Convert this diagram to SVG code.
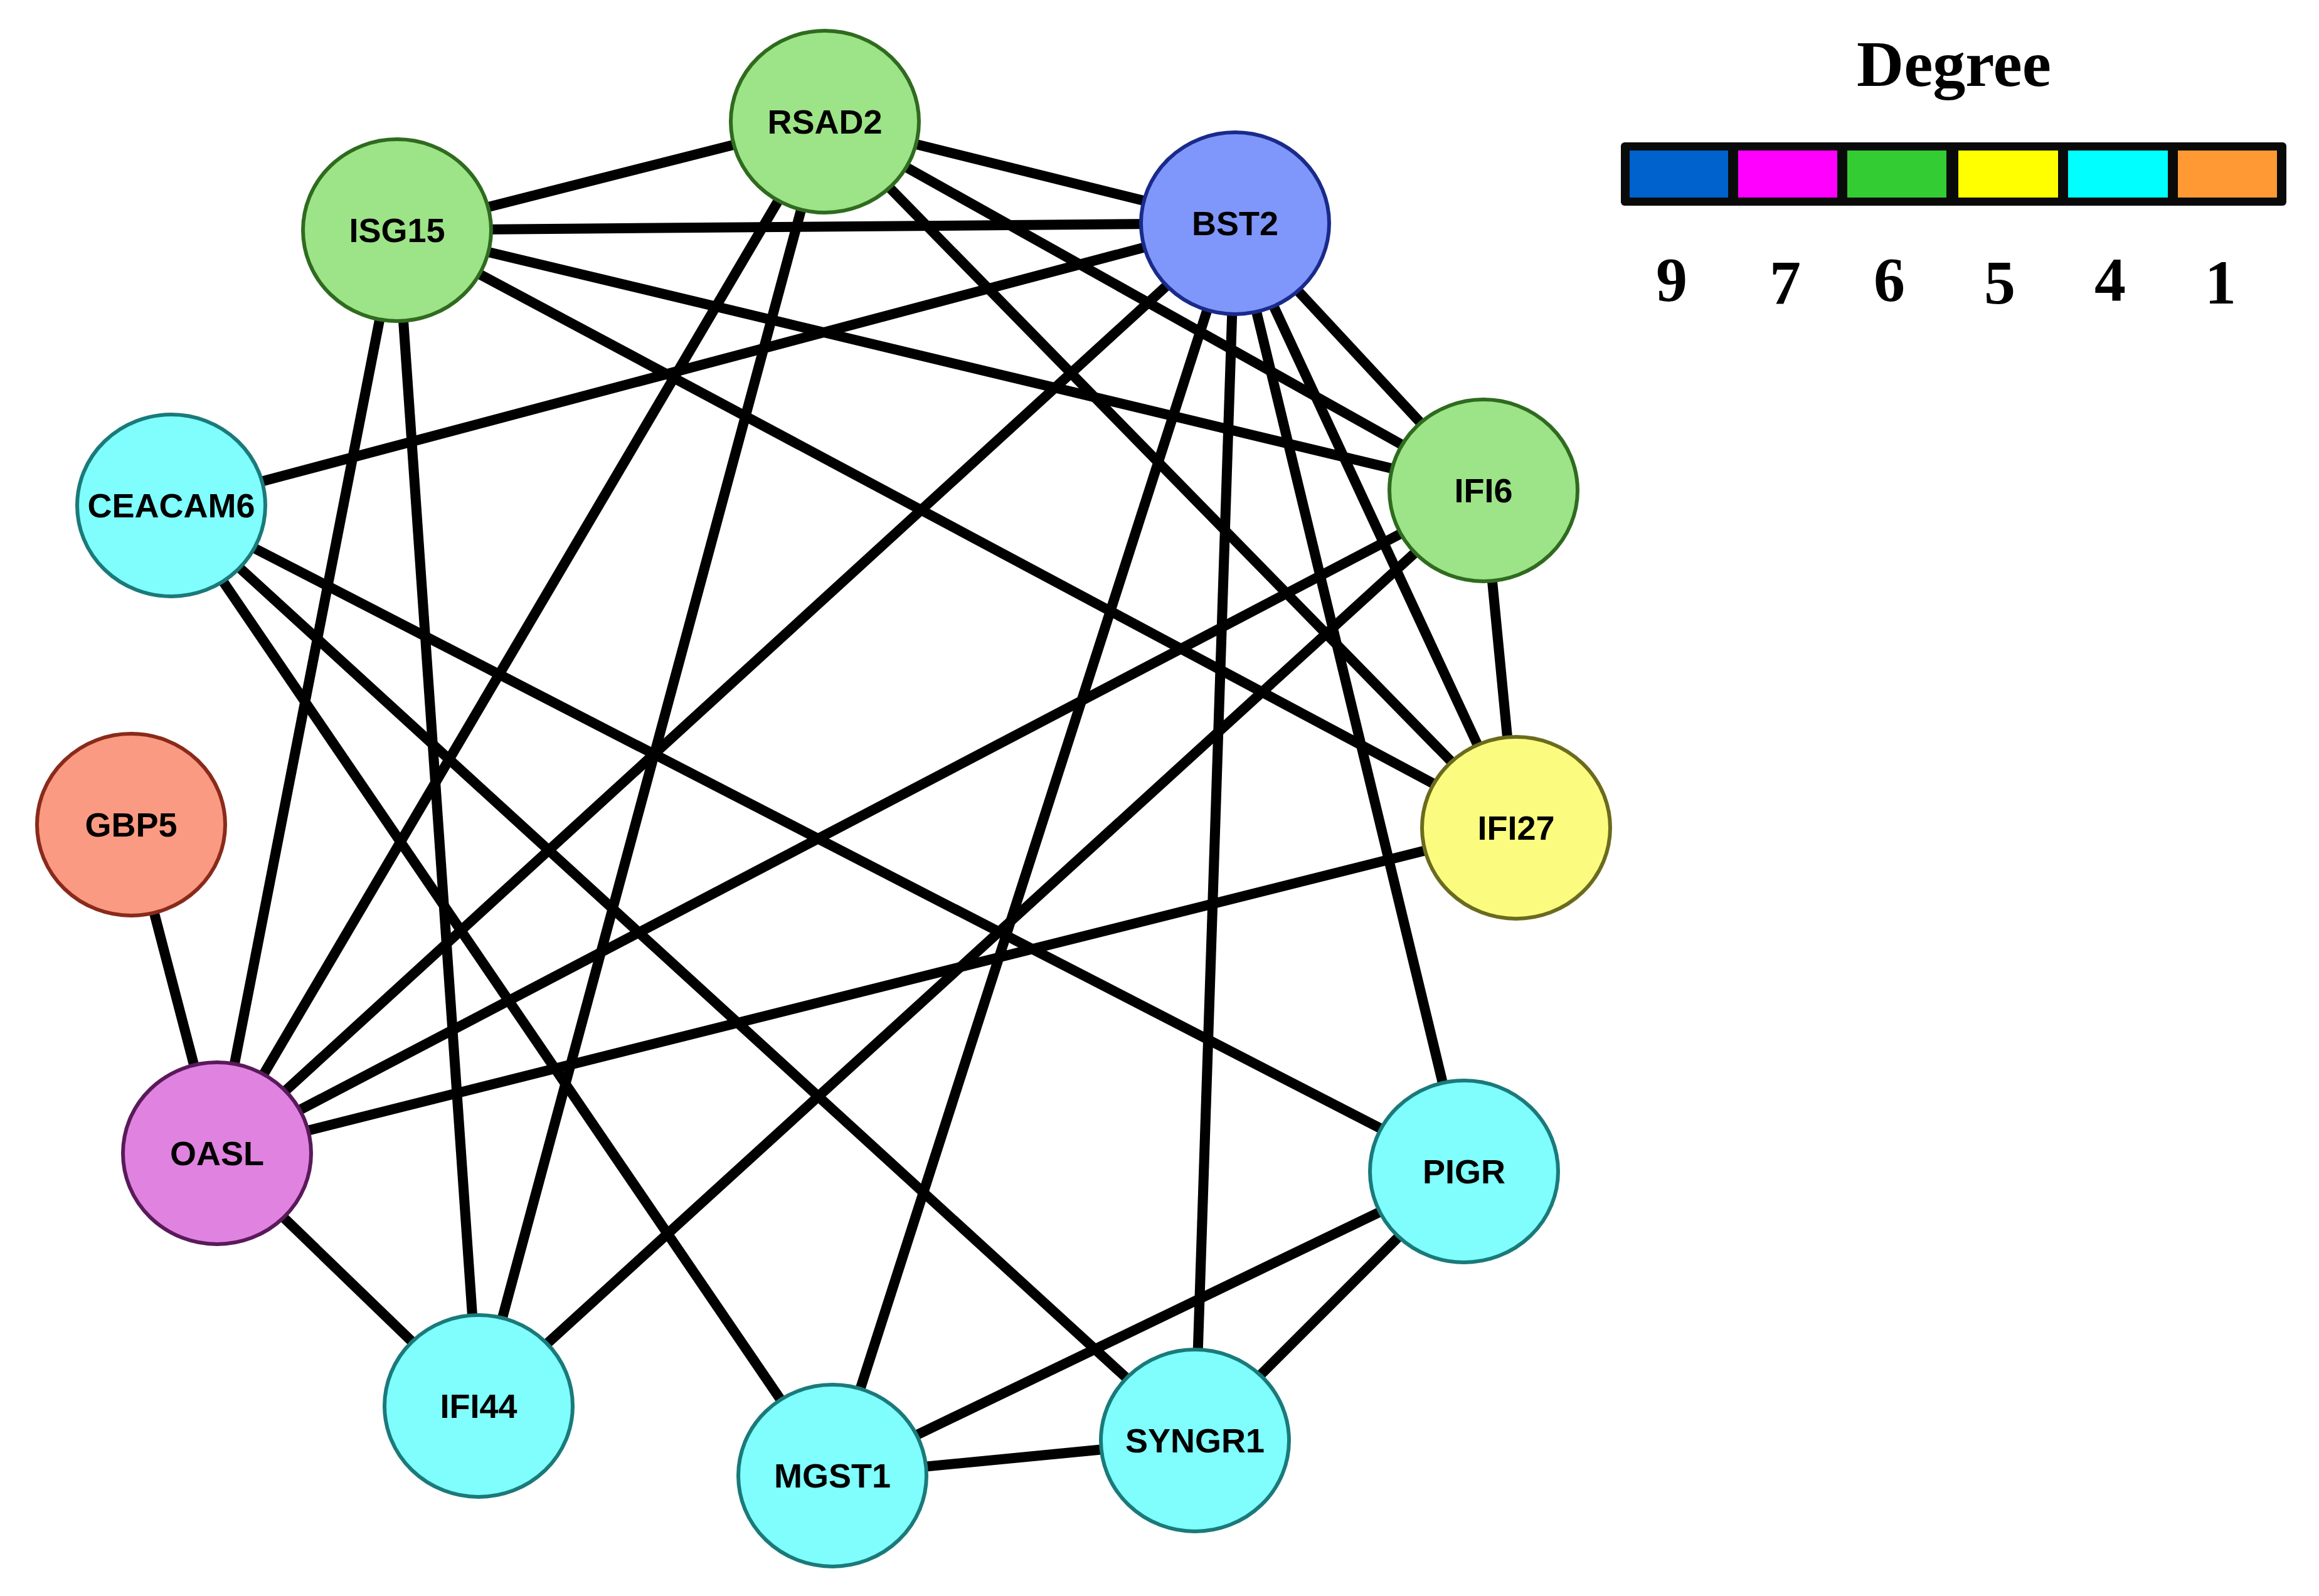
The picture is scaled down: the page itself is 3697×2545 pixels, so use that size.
<svg xmlns="http://www.w3.org/2000/svg" width="3697" height="2545" viewBox="0 0 3697 2545">
<style>
.e{stroke:#000;stroke-width:16;fill:none}
.n{stroke-width:6}
.g{fill:#9de387;stroke:#2f6b1f}
.b{fill:#7f97fb;stroke:#1a2a8a}
.c{fill:#80fdfd;stroke:#1a7a7a}
.o{fill:#fb9a82;stroke:#8a2a1a}
.y{fill:#fbfb7f;stroke:#6b6b1f}
.m{fill:#e083e0;stroke:#5a1a5a}
.t{font-family:"Liberation Sans",Arial,sans-serif;font-weight:bold;font-size:54px;text-anchor:middle;fill:#000}
.l{font-family:"Liberation Serif","Times New Roman",serif;font-weight:bold;text-anchor:middle;fill:#000}
</style>
<rect width="3697" height="2545" fill="#fff"/>
<g id="connectors">
<line class="e" x1="1315" y1="194" x2="633" y2="367"/>
<line class="e" x1="1315" y1="194" x2="1969" y2="356"/>
<line class="e" x1="1315" y1="194" x2="2365" y2="782"/>
<line class="e" x1="1315" y1="194" x2="2417" y2="1320"/>
<line class="e" x1="1315" y1="194" x2="346" y2="1839"/>
<line class="e" x1="1315" y1="194" x2="763" y2="2242"/>
<line class="e" x1="633" y1="367" x2="1969" y2="356"/>
<line class="e" x1="633" y1="367" x2="2365" y2="782"/>
<line class="e" x1="633" y1="367" x2="2417" y2="1320"/>
<line class="e" x1="633" y1="367" x2="346" y2="1839"/>
<line class="e" x1="633" y1="367" x2="763" y2="2242"/>
<line class="e" x1="1969" y1="356" x2="273" y2="806"/>
<line class="e" x1="1969" y1="356" x2="2365" y2="782"/>
<line class="e" x1="1969" y1="356" x2="2417" y2="1320"/>
<line class="e" x1="1969" y1="356" x2="2334" y2="1868"/>
<line class="e" x1="1969" y1="356" x2="1905" y2="2297"/>
<line class="e" x1="1969" y1="356" x2="1327" y2="2353"/>
<line class="e" x1="1969" y1="356" x2="346" y2="1839"/>
<line class="e" x1="2365" y1="782" x2="2417" y2="1320"/>
<line class="e" x1="2365" y1="782" x2="346" y2="1839"/>
<line class="e" x1="2365" y1="782" x2="763" y2="2242"/>
<line class="e" x1="2417" y1="1320" x2="346" y2="1839"/>
<line class="e" x1="273" y1="806" x2="2334" y2="1868"/>
<line class="e" x1="273" y1="806" x2="1905" y2="2297"/>
<line class="e" x1="273" y1="806" x2="1327" y2="2353"/>
<line class="e" x1="209" y1="1315" x2="346" y2="1839"/>
<line class="e" x1="346" y1="1839" x2="763" y2="2242"/>
<line class="e" x1="2334" y1="1868" x2="1327" y2="2353"/>
<line class="e" x1="2334" y1="1868" x2="1905" y2="2297"/>
<line class="e" x1="1327" y1="2353" x2="1905" y2="2297"/>
</g>
<g id="RSAD2"><ellipse class="n g" cx="1315" cy="194" rx="150" ry="145"/><text class="t" x="1315" y="213">RSAD2</text></g>
<g id="ISG15"><ellipse class="n g" cx="633" cy="367" rx="150" ry="145"/><text class="t" x="633" y="386">ISG15</text></g>
<g id="BST2"><ellipse class="n b" cx="1969" cy="356" rx="150" ry="145"/><text class="t" x="1969" y="375">BST2</text></g>
<g id="CEACAM6"><ellipse class="n c" cx="273" cy="806" rx="150" ry="145"/><text class="t" x="273" y="825">CEACAM6</text></g>
<g id="IFI6"><ellipse class="n g" cx="2365" cy="782" rx="150" ry="145"/><text class="t" x="2365" y="801">IFI6</text></g>
<g id="GBP5"><ellipse class="n o" cx="209" cy="1315" rx="150" ry="145"/><text class="t" x="209" y="1334">GBP5</text></g>
<g id="IFI27"><ellipse class="n y" cx="2417" cy="1320" rx="150" ry="145"/><text class="t" x="2417" y="1339">IFI27</text></g>
<g id="OASL"><ellipse class="n m" cx="346" cy="1839" rx="150" ry="145"/><text class="t" x="346" y="1858">OASL</text></g>
<g id="PIGR"><ellipse class="n c" cx="2334" cy="1868" rx="150" ry="145"/><text class="t" x="2334" y="1887">PIGR</text></g>
<g id="IFI44"><ellipse class="n c" cx="763" cy="2242" rx="150" ry="145"/><text class="t" x="763" y="2261">IFI44</text></g>
<g id="MGST1"><ellipse class="n c" cx="1327" cy="2353" rx="150" ry="145"/><text class="t" x="1327" y="2372">MGST1</text></g>
<g id="SYNGR1"><ellipse class="n c" cx="1905" cy="2297" rx="150" ry="145"/><text class="t" x="1905" y="2316">SYNGR1</text></g>
<g id="legend">
<text class="l" x="3115" y="137" font-size="104">Degree</text>
<rect x="2584" y="227" width="1061" height="101" rx="6" fill="#0a0a0a"/>
<rect x="2598" y="240" width="157" height="75" fill="#0062cc"/>
<rect x="2771" y="240" width="158" height="75" fill="#ff00ff"/>
<rect x="2945" y="240" width="158" height="75" fill="#33cc33"/>
<rect x="3122" y="240" width="159" height="75" fill="#ffff00"/>
<rect x="3297" y="240" width="159" height="75" fill="#00ffff"/>
<rect x="3472" y="240" width="158" height="75" fill="#ff9933"/>
<text class="l" font-size="100" x="2665" y="479">9</text>
<text class="l" font-size="100" x="2846" y="484">7</text>
<text class="l" font-size="100" x="3012" y="479">6</text>
<text class="l" font-size="100" x="3188" y="484">5</text>
<text class="l" font-size="100" x="3364" y="479">4</text>
<text class="l" font-size="100" x="3540" y="484">1</text>
</g>
</svg>
